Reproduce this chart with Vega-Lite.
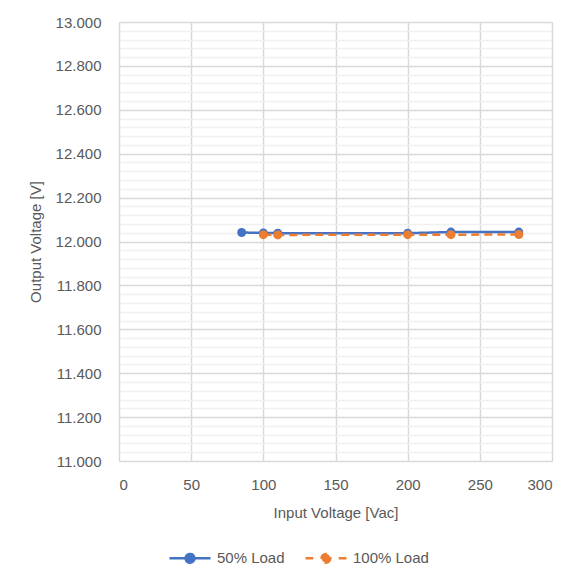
{
  "$schema": "https://vega.github.io/schema/vega-lite/v6.json",
  "autosize": "none",
  "width": 433,
  "height": 439,
  "padding": {"left": 119, "top": 22, "right": 24, "bottom": 114},
  "background": "white",
  "config": {
    "font": "Liberation Sans",
    "view": {"stroke": null},
    "axis": {"labelFont": "Liberation Sans", "titleFont": "Liberation Sans", "labelFontSize": 15, "titleFontSize": 15, "labelColor": "#595959", "titleColor": "#595959", "titleFontWeight": "normal", "ticks": false, "domain": false}
  },
  "data": {"values": [
    {"series": "50% Load", "vin": 85, "vout": 12.041},
    {"series": "50% Load", "vin": 100, "vout": 12.039},
    {"series": "50% Load", "vin": 110, "vout": 12.038},
    {"series": "50% Load", "vin": 200, "vout": 12.038},
    {"series": "50% Load", "vin": 230, "vout": 12.043},
    {"series": "50% Load", "vin": 277, "vout": 12.043},
    {"series": "100% Load", "vin": 100, "vout": 12.031},
    {"series": "100% Load", "vin": 110, "vout": 12.030},
    {"series": "100% Load", "vin": 200, "vout": 12.031},
    {"series": "100% Load", "vin": 230, "vout": 12.031},
    {"series": "100% Load", "vin": 277, "vout": 12.032}
  ]},
  "mark": {"type": "line", "strokeWidth": 2.5, "point": {"filled": true, "size": 80, "opacity": 1}},
  "encoding": {
    "x": {"field": "vin", "type": "quantitative", "title": "Input Voltage [Vac]",
      "scale": {"domain": [0, 300], "nice": false, "zero": false},
      "axis": {"values": [0, 50, 100, 150, 200, 250, 300], "grid": true, "gridColor": "#d9d9d9", "gridWidth": 1.5, "labelPadding": 16, "titlePadding": 13}},
    "y": {"field": "vout", "type": "quantitative", "title": "Output Voltage [V]",
      "scale": {"domain": [11, 13], "nice": false, "zero": false},
      "axis": {
        "values": [11, 11.04, 11.08, 11.12, 11.16, 11.2, 11.24, 11.28, 11.32, 11.36, 11.4, 11.44, 11.48, 11.52, 11.56, 11.6, 11.64, 11.68, 11.72, 11.76, 11.8, 11.84, 11.88, 11.92, 11.96, 12, 12.04, 12.08, 12.12, 12.16, 12.2, 12.24, 12.28, 12.32, 12.36, 12.4, 12.44, 12.48, 12.52, 12.56, 12.6, 12.64, 12.68, 12.72, 12.76, 12.8, 12.84, 12.88, 12.92, 12.96, 13],
        "grid": true,
        "gridColor": {"condition": {"test": "abs(datum.value*5 - round(datum.value*5)) < 0.001", "value": "#d9d9d9"}, "value": "#f0f0f0"},
        "gridWidth": 1.5,
        "labelExpr": "abs(datum.value*5 - round(datum.value*5)) < 0.001 ? format(datum.value, '.3f') : ''",
        "labelPadding": 18, "titlePadding": 12, "labelOverlap": false}},
    "color": {"field": "series", "type": "nominal", "title": null,
      "scale": {"domain": ["50% Load", "100% Load"], "range": ["#4472C4", "#ED7D31"]},
      "legend": {"orient": "none", "legendX": 49, "legendY": 514, "direction": "horizontal", "labelFontSize": 15, "labelColor": "#595959", "labelFont": "Liberation Sans", "labelOffset": 5, "symbolSize": 1681, "symbolStrokeWidth": 2.5, "symbolDash": [1, 0], "columnPadding": 15,
        "encode": {"symbols": {"update": {
          "fill": {"scale": "color", "field": "value"},
          "strokeDash": {"value": [1, 0]},
          "shape": {"signal": "datum.value === '100% Load' ? 'M-1,0H-0.62M0.62,0H1M0.215,0A0.215,0.215,0,1,1,-0.215,0A0.215,0.215,0,1,1,0.215,0Z' : 'M-1,0H1M0.215,0A0.215,0.215,0,1,1,-0.215,0A0.215,0.215,0,1,1,0.215,0Z'"}
        }}}}},
    "strokeDash": {"field": "series", "type": "nominal", "legend": null,
      "scale": {"domain": ["50% Load", "100% Load"], "range": [[1, 0], [8, 5]]}}
  }
}
